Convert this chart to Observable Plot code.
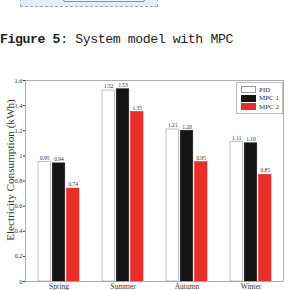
<!DOCTYPE html>
<html>
<head>
<meta charset="utf-8">
<script src="https://cdn.jsdelivr.net/npm/d3@7"></script>
<script src="https://cdn.jsdelivr.net/npm/@observablehq/plot@0.6"></script>
<style>
  html, body { margin: 0; padding: 0; background: #fff; width: 301px; height: 290px; overflow: hidden; }
  #page { position: relative; width: 301px; height: 290px; }
  #topbox { position: absolute; left: 20px; top: -2px; width: 136px; height: 7px; background: #e7ebf8; border: 1px dashed #9aa3c4; }
  #topinner { position: absolute; left: 63px; top: -6px; width: 80px; height: 6px; background: #f3f4f8; border: 1px solid #8a8f9c; border-radius: 2px; }
  #caption { position: absolute; left: 0px; top: 32px; font-family: "Liberation Mono", monospace; font-size: 13.2px; letter-spacing: -0.4px; color: #222; white-space: nowrap; }
  #caption b { font-family: "Liberation Mono", monospace; font-weight: bold; }
  #chart { position: absolute; left: 0; top: 70px; }
  #legend { position: absolute; left: 236px; top: 82px; width: 45px; height: 30px; border: 1px solid #bbb; background: #fff; font-family: "Liberation Serif", serif; font-size: 7px; color: #333; }
  .row { position: absolute; left: 4px; height: 7px; display: flex; align-items: center; }
  .sw { width: 15px; height: 7px; box-sizing: border-box; margin-right: 3px; }
</style>
</head>
<body>
<div id="page">
  <div id="topbox"></div>
  <div id="topinner"></div>
  <div id="caption"><b>Figure 5</b>: System model with MPC</div>
  <div id="chart"></div>
  <div id="legend"></div>
</div>
<script>
const seasons = ["Spring", "Summer", "Autumn", "Winter"];
const seriesNames = ["PID", "MPC1", "MPC2"];
const seriesLegend = ["PID", "MPC 1", "MPC 2"];
const pid  = [0.95, 1.52, 1.21, 1.11];
const mpc1 = [0.94, 1.53, 1.20, 1.10];
const mpc2 = [0.74, 1.35, 0.95, 0.85];
const yTicks = [0, 0.2, 0.4, 0.6, 0.8, 1, 1.2, 1.4, 1.6];
const yLabel = "Electricity Consumption (kWh)";

const fills = ["#ffffff", "#141414", "#e5302a"];
const strokes = ["#999999", "#141414", "#e5302a"];
const values = [pid, mpc1, mpc2];
const insets = [[0, 28.5], [14.25, 14.25], [28.5, 0]];
const dxs = [-14.25, 0, 14.25];
const serif = "Liberation Serif, serif";

const marks = [];
values.forEach((vals, k) => {
  marks.push(Plot.barY(seasons, {
    x: d => d, y: (d, i) => vals[i],
    fill: fills[k], stroke: strokes[k], strokeWidth: 0.6,
    insetLeft: insets[k][0], insetRight: insets[k][1]
  }));
  marks.push(Plot.text(seasons, {
    x: d => d, y: (d, i) => vals[i], text: (d, i) => vals[i].toFixed(2),
    dx: dxs[k], dy: -4, fontSize: 5.5, fill: "#333", fontFamily: serif
  }));
});

const chart = Plot.plot({
  width: 301,
  height: 220,
  marginTop: 10,
  marginBottom: 9,
  marginLeft: 25,
  marginRight: 18,
  style: { fontFamily: serif, background: "transparent", color: "#333" },
  x: { domain: seasons, paddingInner: 0.364, paddingOuter: 0.182 },
  y: { domain: [0, 1.6] },
  marks: [
    Plot.axisX({ tickSize: 0, tickPadding: 2, fontSize: 7.5, label: null }),
    Plot.axisY({ ticks: yTicks, tickSize: 2, tickPadding: 1, fontSize: 6.5,
      tickFormat: d => String(+d.toFixed(1)), label: null }),
    ...marks,
    Plot.frame({ stroke: "#999", strokeWidth: 0.8 })
  ]
});
document.getElementById("chart").appendChild(chart);

// y axis title as real text
const svg = d3.select(chart.tagName === "svg" ? chart : chart.querySelector("svg"));
svg.append("text")
  .attr("transform", "translate(11,100) rotate(-90)")
  .attr("text-anchor", "middle")
  .attr("dominant-baseline", "middle")
  .attr("font-family", serif)
  .attr("font-size", 11.2)
  .attr("fill", "#333")
  .text(yLabel);

const legend = document.getElementById("legend");
seriesNames.forEach((s, k) => {
  const row = document.createElement("div");
  row.className = "row";
  row.style.top = (3 + k * 8.5) + "px";
  const sw = document.createElement("div");
  sw.className = "sw";
  sw.style.background = fills[k];
  sw.style.border = "1px solid " + strokes[k];
  const t = document.createElement("span");
  t.textContent = seriesLegend[k];
  row.appendChild(sw); row.appendChild(t);
  legend.appendChild(row);
});
</script>
</body>
</html>
